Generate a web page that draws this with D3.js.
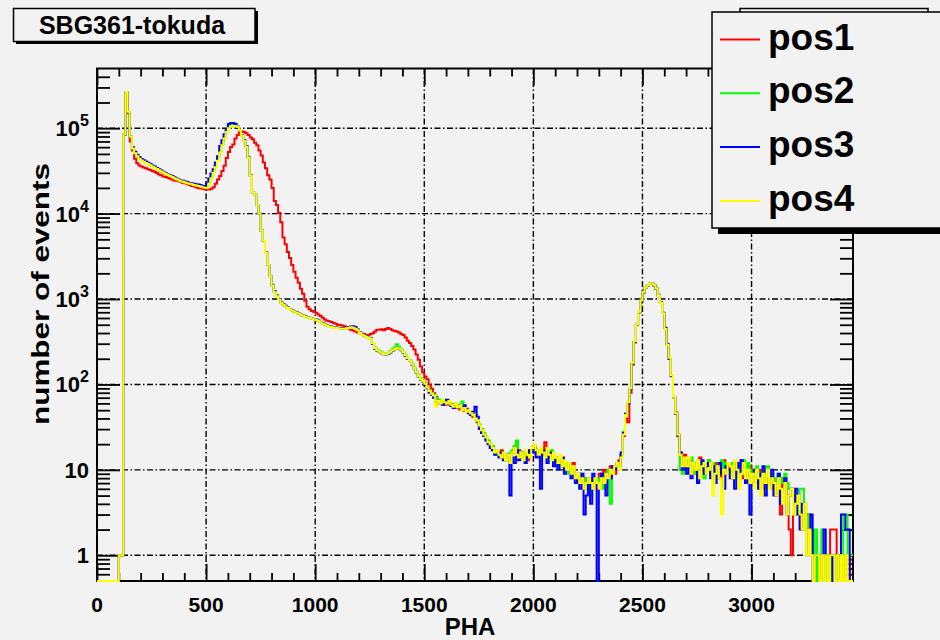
<!DOCTYPE html>
<html>
<head>
<meta charset="utf-8">
<script src="https://cdn.jsdelivr.net/npm/d3@7"></script>
<style>
  body { margin: 0; background: #f2f2f2; }
  svg { display: block; font-family: "Liberation Sans", Arial, Helvetica, sans-serif; }
</style>
</head>
<body>
<svg id="chart" width="940" height="640"></svg>
<script>
// PHA histograms, 10 channels per bin, bins start at 0
const binWidth = 10;
const binStarts = d3.range(0, 3460, binWidth);

const seriesNames = ["pos1", "pos2", "pos3", "pos4"];
const seriesColors = ["#ff0000", "#00ff00", "#0000ff", "#ffff00"];

const pos1 = [
  0,0,0,0,0,0,0,0,0,0,
  1,1,83000,255000,150000,70000,55000,44000,39000,36500,
  35500,34700,33900,33100,32400,31600,30900,29900,28800,28200,
  27200,26900,26300,25700,25100,24500,24300,24000,23400,22900,
  22600,22100,21600,21100,20900,20400,20000,19700,19500,19300,
  19100,19100,19500,20400,22400,25100,27500,31600,36300,44700,
  52500,60300,64600,75900,83200,89100,91200,90200,87100,83200,
  77600,74100,67600,63100,55000,47900,39800,33900,28200,25100,
  20000,14100,12600,10200,7900,5250,4370,3550,3020,2510,
  2090,1780,1550,1320,1150,955,813,759,724,708,
  692,661,631,603,575,556,550,537,525,513,
  501,495,490,479,462,452,437,427,417,407,
  398,394,389,380,380,389,398,417,437,437,
  442,432,447,457,447,432,422,417,407,389,
  380,355,324,305,282,257,224,195,162,138,
  124,115,100,89,79,72,66,63,59,58,
  62,58,56,59,53,55,51,54,49,52,
  47,45,42,44,36,33,29,26,23,21,
  20,18,17,16,15,17,14,15,13,15,
  16,18,21,17,14,16,15,13,17,16,
  19,17,16,18,15,21,14,16,15,13,
  14,12,13,11,12,10,11,9,12,9,
  8,9,7,8,6,7,8,6,7,8,
  9,7,10,8,9,11,10,9,12,13,
  15,25,40,36,80,170,310,495,700,945,
  1190,1345,1440,1505,1505,1440,1318,1112,908,688,
  458,290,198,125,72,47,26,16,12,15,
  10,13,11,9,12,10,14,11,9,12,
  13,10,9,12,11,8,10,13,9,11,
  10,8,12,9,11,13,8,10,9,11,
  8,9,7,10,8,6,9,7,8,6,
  7,5,6,3,8,6,4,2,1,3,
  5,5,3,2,4,3,3,2,1,1,
  0,1,0,1,1,0,2,2,2,0,
  1,0,1,0,0,1
];

const pos2 = [
  0,0,0,0,0,0,0,0,0,0,
  1,1,84000,262000,154000,79000,58500,51500,47500,44500,
  42500,41000,39800,38500,37200,36000,34900,33800,32700,31600,
  30600,29600,28600,27900,27200,26300,25500,24900,24300,23900,
  23400,23000,22600,22300,22000,21700,21400,21100,20700,20500,
  20800,23500,27000,31000,36500,43000,54000,65000,78000,92000,
  103000,107000,109000,108000,104000,95000,82500,71500,61000,45500,
  28100,17800,16500,12600,10000,6300,4790,3520,2510,1850,
  1440,1210,1090,995,905,865,825,790,763,738,
  712,695,674,658,643,628,614,600,592,580,
  572,558,540,520,505,492,482,474,468,462,
  458,454,450,452,458,465,470,468,458,438,
  402,388,374,362,352,344,306,270,255,246,
  238,230,228,234,246,258,270,295,272,258,
  238,222,205,192,175,158,142,128,118,112,
  104,94,86,80,76,70,64,66,62,60,
  66,62,58,56,60,55,57,63,52,50,
  48,47,45,41,37,34,30,27,24,22,
  20,19,17,15,16,14,15,13,14,16,
  17,19,22,16,14,15,13,16,15,17,
  18,16,17,15,14,16,15,13,17,14,
  12,13,11,12,10,12,9,11,10,8,
  8,9,7,8,6,7,5,8,7,8,
  7,9,6,8,10,4,10,11,12,11,
  15,28,46,61,89,178,318,502,705,955,
  1200,1355,1445,1515,1512,1445,1322,1115,905,685,
  455,292,202,127,71,45,25,10,9,13,
  12,10,14,9,11,13,10,12,8,11,
  13,9,12,10,8,11,13,9,12,10,
  9,12,10,8,11,9,13,10,12,8,
  10,8,11,9,7,10,8,11,7,9,
  8,6,9,7,8,9,7,6,6,5,
  4,3,6,6,4,3,2,2,1,2,
  0,1,2,1,0,1,0,1,1,0,
  1,0,3,3,1,1
];

const pos3 = [
  0,0,0,0,0,0,0,0,0,0,
  1,1,85000,262000,155000,80000,60000,53000,49000,46000,
  43600,42200,40700,39400,38000,36700,35500,34300,33100,32000,
  30900,29900,28800,28200,27500,26600,25700,25100,24500,24300,
  23800,23400,22900,22600,22400,22100,21900,21600,21100,20900,
  22900,25700,29500,33100,39800,46800,61700,72400,85100,97700,
  112000,115000,115000,112000,105000,95500,83200,72400,61700,45700,
  28200,17800,16600,12600,10000,6310,4790,3550,2510,1860,
  1450,1230,1100,1000,912,871,832,794,767,741,
  716,700,676,661,646,631,617,603,596,582,
  575,560,540,520,505,490,482,476,470,465,
  460,456,452,455,462,470,478,480,470,440,
  405,390,375,362,352,345,300,262,248,240,
  232,226,224,228,236,248,258,266,262,252,
  236,215,200,188,170,155,138,124,114,108,
  100,90,80,76,70,62,60,62,58,63,
  66,60,56,53,55,58,54,52,57,50,
  46,44,48,55,42,30,27,25,22,20,
  18,17,15,16,14,16,13,15,14,5,
  14,12,17,13,15,16,12,14,17,16,
  18,14,16,6,15,17,12,16,14,11,
  13,10,12,14,9,11,12,8,10,7,
  8,6,9,3,5,8,4,9,7,0,
  6,9,7,5,9,8,11,10,12,11,
  16,27,45,60,88,175,315,500,700,950,
  1200,1350,1440,1510,1510,1440,1320,1120,910,690,
  460,295,200,126,71,45,25,16,10,13,
  9,13,8,11,12,7,10,13,9,11,
  12,8,11,7,10,12,9,6,11,10,
  8,10,6,12,9,13,11,7,9,3,
  7,10,8,6,9,11,5,8,7,10,
  5,7,9,4,6,8,3,5,6,4,
  6,3,2,4,3,1,2,3,0,1,
  1,0,1,2,0,1,1,0,1,0,
  1,3,3,2,2,0
];

const pos4 = [
  0,0,0,0,0,0,0,0,0,0,
  1,1,85000,265000,156000,80000,58000,51000,47000,44000,
  42000,40500,39200,38000,36800,35600,34500,33400,32300,31200,
  30200,29300,28300,27600,26900,26000,25200,24600,24000,23600,
  23100,22700,22300,22000,21700,21400,21100,20800,20400,20100,
  20000,22500,26000,30000,35000,41500,52000,63000,76000,90000,
  100000,105000,106000,106000,104000,95000,82000,71000,60500,45000,
  28000,17800,16600,12600,10000,6300,4800,3500,2520,1850,
  1430,1200,1080,990,900,860,820,785,760,735,
  710,692,672,656,640,626,612,598,590,578,
  570,555,535,515,500,488,478,470,464,458,
  454,450,448,450,456,462,466,462,450,430,
  400,385,372,360,350,340,305,268,252,242,
  235,228,226,232,242,252,260,268,264,255,
  240,220,204,190,172,156,140,126,116,110,
  102,92,84,78,74,55,64,60,66,62,
  60,64,58,55,60,54,57,50,53,48,
  50,46,44,40,38,33,29,26,24,21,
  20,18,16,17,15,14,16,13,15,12,
  16,18,15,14,16,13,17,15,14,18,
  20,17,15,18,16,14,18,15,13,16,
  14,12,15,11,13,10,12,9,11,8,
  9,7,8,6,7,8,7,6,8,7,
  6,8,7,9,8,10,9,11,12,10,
  14,26,44,62,90,180,320,505,710,960,
  1210,1360,1450,1520,1515,1450,1325,1110,900,680,
  450,290,205,128,72,46,26,15,11,14,
  11,14,9,12,10,13,8,11,12,9,
  10,12,5,9,11,8,3,10,9,12,
  11,8,13,10,6,9,12,8,10,7,
  9,6,10,8,5,9,7,10,6,8,
  7,5,8,6,4,7,3,5,6,3,
  4,5,3,2,4,1,2,1,0,1,
  1,0,1,0,1,0,1,1,0,1,
  0,1,0,1,0,0
];

const xTicks = [0, 500, 1000, 1500, 2000, 2500, 3000];
const yTicks = [1, 10, 100, 1000, 10000, 100000];
const yTickLabels = ["1", "10", "10^2", "10^3", "10^4", "10^5"];

const chartTitle = "SBG361-tokuda";
const xTitle = "PHA";
const yTitle = "number of events";

const series = [pos1, pos2, pos3, pos4];

render();

function render() {
  const margin = { top: 68.5, right: 87, bottom: 59, left: 97 };
  const width = 940 - margin.left - margin.right;
  const height = 640 - margin.top - margin.bottom;

  const root = d3.select("#chart");
  root.append("rect").attr("width", 940).attr("height", 640).attr("fill", "#f2f2f2");

  const svg = root.append("g")
    .attr("transform", "translate(" + margin.left + "," + margin.top + ")");

  const x = d3.scaleLinear().domain([0, 3465]).range([0, width]);
  const y = d3.scaleLog().domain([0.5, 5e5]).range([height, 0]);

  // grid (dash-dot like ROOT)
  const grid = svg.append("g").attr("class", "grid")
    .attr("stroke", "#000").attr("stroke-width", 1.4)
    .attr("stroke-dasharray", "6,2.5,1.5,2.5");
  grid.selectAll(".gx").data(xTicks.filter(d => d > 0)).enter()
    .append("line")
    .attr("x1", d => x(d)).attr("x2", d => x(d))
    .attr("y1", 0).attr("y2", height);
  grid.selectAll(".gy").data(yTicks).enter()
    .append("line")
    .attr("x1", 0).attr("x2", width)
    .attr("y1", d => y(d)).attr("y2", d => y(d));

  // minor tick positions
  const yMinor = [];
  [0.1, 1, 10, 100, 1000, 10000, 100000].forEach(dec => {
    for (let k = 2; k <= 9; k++) {
      const v = dec * k;
      if (v > 0.5 && v < 5e5) yMinor.push(v);
    }
  });
  const xMinor = d3.range(100, 3465, 100).filter(d => d % 500 !== 0);

  const axisStyle = g => {
    g.select(".domain").remove();
    g.selectAll("line").attr("stroke", "#000").attr("stroke-width", 1.8);
  };

  // left + right
  svg.append("g").call(d3.axisLeft(y).tickValues(yMinor).tickSize(-13).tickFormat("")).call(axisStyle);
  svg.append("g").call(d3.axisLeft(y).tickValues(yTicks).tickSize(-23).tickFormat("")).call(axisStyle);
  svg.append("g").attr("transform", "translate(" + width + ",0)")
    .call(d3.axisRight(y).tickValues(yMinor).tickSize(-13).tickFormat("")).call(axisStyle);
  svg.append("g").attr("transform", "translate(" + width + ",0)")
    .call(d3.axisRight(y).tickValues(yTicks).tickSize(-23).tickFormat("")).call(axisStyle);
  // bottom + top
  svg.append("g").attr("transform", "translate(0," + height + ")")
    .call(d3.axisBottom(x).tickValues(xMinor).tickSize(-8).tickFormat("")).call(axisStyle);
  svg.append("g").attr("transform", "translate(0," + height + ")")
    .call(d3.axisBottom(x).tickValues(xTicks).tickSize(-17).tickFormat("")).call(axisStyle);
  svg.append("g")
    .call(d3.axisTop(x).tickValues(xMinor).tickSize(-8).tickFormat("")).call(axisStyle);
  svg.append("g")
    .call(d3.axisTop(x).tickValues(xTicks).tickSize(-17).tickFormat("")).call(axisStyle);

  // frame
  svg.append("rect")
    .attr("width", width).attr("height", height)
    .attr("fill", "none").attr("stroke", "#000").attr("stroke-width", 2);

  // histograms (step lines), zero bins sit on the frame bottom
  const line = d3.line()
    .x(d => x(d[0]))
    .y(d => d[1] > 0 ? y(d[1]) : height);

  svg.append("clipPath").attr("id", "clip")
    .append("rect").attr("x", -1).attr("y", -1).attr("width", width + 2).attr("height", height + 2);

  series.forEach((vals, si) => {
    const pts = [];
    binStarts.forEach((b, i) => {
      pts.push([b, vals[i]]);
      pts.push([b + binWidth, vals[i]]);
    });
    pts.push([3465, vals[vals.length - 1]]);
    svg.append("path")
      .attr("class", "hist " + seriesNames[si])
      .attr("clip-path", "url(#clip)")
      .attr("d", line(pts))
      .attr("fill", "none")
      .attr("stroke", seriesColors[si])
      .attr("stroke-width", 2)
      .attr("stroke-linejoin", "miter");
  });

  // tick labels
  svg.selectAll(".xl").data(xTicks).enter()
    .append("text")
    .attr("x", d => x(d)).attr("y", height + 31)
    .attr("text-anchor", "middle")
    .attr("font-size", 21).attr("font-weight", "bold")
    .text(d => d);

  const yl = svg.selectAll(".yl").data(yTicks).enter()
    .append("text")
    .attr("x", -8).attr("y", d => y(d) + 8)
    .attr("text-anchor", "end")
    .attr("font-size", 22).attr("font-weight", "bold");
  yl.each(function(d, i) {
    const parts = yTickLabels[i].split("^");
    const t = d3.select(this);
    t.append("tspan").text(parts[0]);
    if (parts[1]) {
      t.append("tspan").attr("dy", -10).attr("font-size", 16).text(parts[1]);
    }
  });

  // axis titles
  svg.append("text")
    .attr("x", width / 2 - 5).attr("y", height + 54)
    .attr("text-anchor", "middle")
    .attr("font-size", 24).attr("font-weight", "bold")
    .text(xTitle);
  svg.append("text")
    .attr("transform", "translate(" + (-48) + "," + (294 - margin.top) + ") rotate(-90)")
    .attr("text-anchor", "middle")
    .attr("font-size", 24).attr("font-weight", "bold")
    .attr("textLength", 262).attr("lengthAdjust", "spacingAndGlyphs")
    .text(yTitle);

  // title box
  const tb = root.append("g");
  tb.append("rect").attr("x", 16).attr("y", 11).attr("width", 242).attr("height", 33).attr("fill", "#000");
  tb.append("rect").attr("x", 13.5).attr("y", 8.5).attr("width", 241.5).attr("height", 33)
    .attr("fill", "#f2f2f2").attr("stroke", "#000").attr("stroke-width", 1.5);
  tb.append("text").attr("x", 132).attr("y", 33.5)
    .attr("text-anchor", "middle").attr("font-size", 25).attr("font-weight", "bold")
    .text(chartTitle);

  // box hidden behind the legend
  root.append("rect").attr("x", 740).attr("y", 8.5).attr("width", 188).attr("height", 20)
    .attr("fill", "#f2f2f2").attr("stroke", "#000").attr("stroke-width", 1.5);

  // legend
  const lg = root.append("g");
  lg.append("rect").attr("x", 718).attr("y", 18).attr("width", 240).attr("height", 216).attr("fill", "#000");
  lg.append("rect").attr("x", 712).attr("y", 12).attr("width", 240).attr("height", 216)
    .attr("fill", "#f2f2f2").attr("stroke", "#000").attr("stroke-width", 1.5);
  const rows = lg.selectAll(".lrow").data(seriesNames).enter()
    .append("g")
    .attr("transform", (d, i) => "translate(0," + (39.5 + i * 53.8) + ")");
  rows.append("line")
    .attr("x1", 720).attr("x2", 760).attr("y1", 0).attr("y2", 0)
    .attr("stroke", (d, i) => seriesColors[i]).attr("stroke-width", 2);
  rows.append("text")
    .attr("x", 768).attr("y", 10)
    .attr("font-size", 37).attr("font-weight", "bold")
    .text(d => d);
}
</script>
</body>
</html>
